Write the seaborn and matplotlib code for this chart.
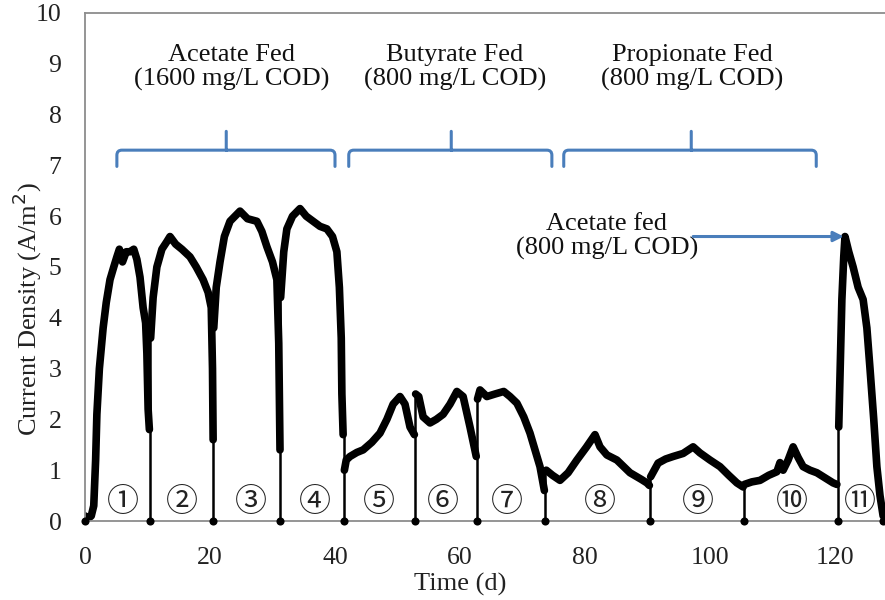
import numpy as np
import pandas as pd
import matplotlib
matplotlib.use("Agg")
import matplotlib.pyplot as plt
from matplotlib.path import Path
from matplotlib.patches import PathPatch
import seaborn as sns

# ---------------- data ----------------
c1_t = [0.0, 0.5, 1.0, 1.4, 1.7, 1.9, 2.3, 2.9, 3.4, 4.0, 4.6, 5.1, 5.5, 6.0, 6.6, 7.2, 7.8, 8.3, 8.8, 9.3, 9.7, 9.9, 10.1, 10.3]
c1_j = [0.1, 0.05, 0.1, 0.3, 1.2, 2.1, 3.0, 3.8, 4.3, 4.75, 5.0, 5.2, 5.35, 5.1, 5.3, 5.3, 5.35, 5.15, 4.8, 4.2, 3.9, 3.3, 2.2, 1.8]
c2_t = [10.5, 10.9, 11.5, 12.3, 13.1, 13.6, 14.5, 15.5, 16.8, 17.8, 18.9, 19.7, 20.2, 20.4, 20.5]
c2_j = [3.6, 4.4, 5.0, 5.35, 5.5, 5.6, 5.45, 5.35, 5.2, 5.0, 4.75, 4.5, 4.2, 3.0, 1.6]
c3_t = [20.6, 21.0, 21.6, 22.3, 23.2, 24.0, 24.8, 26.0, 27.5, 28.3, 29.1, 30.0, 30.7, 31.0, 31.2]
c3_j = [3.8, 4.6, 5.1, 5.6, 5.9, 6.0, 6.1, 5.95, 5.9, 5.7, 5.4, 5.1, 4.75, 3.5, 1.4]
c4_t = [31.3, 31.8, 32.3, 33.2, 34.4, 35.4, 36.5, 37.6, 38.7, 39.6, 40.3, 40.7, 41.0, 41.1, 41.3]
c4_j = [4.4, 5.3, 5.75, 6.0, 6.15, 6.0, 5.9, 5.8, 5.75, 5.6, 5.3, 4.6, 3.6, 2.5, 1.7]
c5_t = [41.5, 41.8, 42.4, 43.5, 44.5, 45.9, 47.2, 48.3, 49.3, 50.4, 51.2, 52.0, 52.7]
c5_j = [1.0, 1.2, 1.27, 1.35, 1.4, 1.55, 1.73, 2.0, 2.3, 2.45, 2.3, 1.85, 1.7]
c6_t = [52.9, 53.4, 54.1, 55.2, 56.2, 57.3, 58.4, 59.5, 60.5, 61.6, 62.6]
c6_j = [2.5, 2.45, 2.05, 1.93, 2.0, 2.1, 2.3, 2.55, 2.45, 1.85, 1.27]
c7_t = [62.8, 63.2, 64.3, 65.6, 67.0, 68.0, 69.1, 70.2, 71.2, 72.0, 72.8, 73.5]
c7_j = [2.4, 2.58, 2.45, 2.5, 2.55, 2.45, 2.32, 2.05, 1.73, 1.4, 1.07, 0.6]
c8_t = [73.8, 74.8, 76.0, 77.3, 78.7, 80.2, 81.6, 82.4, 83.5, 85.1, 87.2, 89.0, 89.9, 90.3]
c8_j = [1.0, 0.9, 0.8, 0.95, 1.2, 1.45, 1.7, 1.46, 1.3, 1.2, 0.95, 0.82, 0.75, 0.7]
c9_t = [90.5, 91.7, 92.9, 94.1, 95.7, 97.3, 98.4, 100.0, 101.6, 103.0, 104.3, 105.3]
c9_j = [0.87, 1.14, 1.22, 1.27, 1.33, 1.46, 1.34, 1.2, 1.07, 0.9, 0.75, 0.67]
c10_t = [105.5, 106.7, 108.0, 109.4, 110.7, 111.2, 111.7, 112.5, 113.3, 114.1, 114.9, 116.0, 117.1, 118.4, 119.7, 120.3]
c10_j = [0.72, 0.77, 0.8, 0.9, 0.97, 1.15, 1.0, 1.2, 1.46, 1.25, 1.07, 1.0, 0.95, 0.85, 0.75, 0.72]
c11_t = [120.6, 121.1, 121.4, 121.6, 122.2, 122.9, 123.7, 124.5, 125.1, 125.6, 126.2, 126.7, 127.2, 127.7]
c11_j = [1.85, 4.36, 5.2, 5.6, 5.3, 5.0, 4.6, 4.36, 3.8, 3.0, 2.0, 1.07, 0.5, 0.1]

cycle_t = [c1_t, c2_t, c3_t, c4_t, c5_t, c6_t, c7_t, c8_t, c9_t, c10_t, c11_t]
cycle_j = [c1_j, c2_j, c3_j, c4_j, c5_j, c6_j, c7_j, c8_j, c9_j, c10_j, c11_j]

# medium changes (day) and the level reached by the thin drop line
boundary_days = [10.4, 20.5, 31.2, 41.4, 52.8, 62.7, 73.6, 90.4, 105.4, 120.5]
boundary_tops = [3.6, 3.8, 4.4, 1.7, 2.5, 2.4, 1.0, 0.87, 0.72, 1.85]
marker_days = [0.0, 10.4, 20.5, 31.2, 41.4, 52.8, 62.7, 73.6, 90.4, 105.4, 120.5, 127.7]

cycle_labels = ["①", "②", "③", "④", "⑤", "⑥", "⑦", "⑧", "⑨", "⑩", "⑪"]
cycle_label_days = [6.0, 15.5, 26.5, 36.8, 47.1, 57.2, 67.5, 82.4, 98.1, 113.1, 124.0]

feed_labels = ["Acetate Fed\n(1600 mg/L COD)", "Butyrate Fed\n(800 mg/L COD)", "Propionate Fed\n(800 mg/L COD)"]
feed_label_days = [23.5, 59.2, 97.1]
bracket_left = [5.1, 42.2, 76.6]
bracket_mid = [22.6, 58.6, 97.0]
bracket_right = [40.0, 74.7, 117.0]

# ---------------- figure ----------------
sns.set_theme(style="white")
plt.rcParams["font.family"] = ["Liberation Serif", "DejaVu Serif"]

fig = plt.figure(figsize=(8.85, 6.0), dpi=100)
ax = fig.add_axes([85 / 885, 1 - 521 / 600, 1 - 85 / 885, (521 - 13) / 600])

rows = []
for k, (tt, jj) in enumerate(zip(cycle_t, cycle_j)):
    for a, b in zip(tt, jj):
        rows.append({"cycle": k + 1, "day": a, "j": b})
df = pd.DataFrame(rows)

sns.lineplot(data=df, x="day", y="j", units="cycle", estimator=None, sort=False,
             color="black", lw=5.5, ax=ax, legend=False,
             solid_joinstyle="round", solid_capstyle="round")

ax.vlines(boundary_days, 0, boundary_tops, color="black", lw=1.8)
sns.scatterplot(x=marker_days, y=[0] * len(marker_days), color="black", s=34,
                edgecolor="black", linewidth=0, ax=ax, zorder=5, clip_on=False)

for lab, d in zip(cycle_labels, cycle_label_days):
    ax.text(d, 0.38, lab, ha="center", va="center", fontsize=23,
            family=["Noto Sans CJK JP", "DejaVu Sans"], color="#222222")

# brackets
blue = "#4a7ebb"
yh, ylow, ytip = 7.3, 6.98, 7.67
rx, ry = 0.8, 0.1
for l, m, r in zip(bracket_left, bracket_mid, bracket_right):
    verts = [(l, ylow), (l, yh - ry), (l, yh), (l + rx, yh),
             (m, yh), (m, ytip), (m, yh),
             (r - rx, yh), (r, yh), (r, yh - ry), (r, ylow)]
    codes = [Path.MOVETO, Path.LINETO, Path.CURVE3, Path.CURVE3,
             Path.LINETO, Path.LINETO, Path.MOVETO,
             Path.LINETO, Path.CURVE3, Path.CURVE3, Path.LINETO]
    ax.add_patch(PathPatch(Path(verts, codes), fill=False, edgecolor=blue, lw=2.2,
                           capstyle="round"))

for lab, d in zip(feed_labels, feed_label_days):
    ax.text(d, 8.93, lab, ha="center", va="center", fontsize=19,
            linespacing=1.1, color="#111111")

ax.text(83.5, 5.6, "Acetate fed\n(800 mg/L COD)", ha="center", va="center",
        fontsize=19, linespacing=1.1, color="#111111")
ax.annotate("", xy=(121.4, 5.6), xytext=(97.3, 5.6),
            arrowprops=dict(arrowstyle="-|>", color=blue, lw=2.2,
                            mutation_scale=15, shrinkA=0, shrinkB=0))

ax.set_xlim(0, 128)
ax.set_ylim(0, 10)
ax.set_xticks([0, 20, 40, 60, 80, 100, 120])
ax.set_yticks(range(0, 11))
ax.tick_params(axis="y", length=0, labelsize=18.5, colors="#222222", pad=17)
ax.tick_params(axis="x", length=0, labelsize=18.5, colors="#222222", pad=19)
ax.set_xlabel("Time (d)", fontsize=19, color="#222222")
ax.set_ylabel("Current Density (A/m$^2$)", fontsize=19, color="#222222")
ax.xaxis.label.set_va("center")
ax.xaxis.label.set_ha("center")
ax.yaxis.label.set_va("center")
ax.yaxis.label.set_ha("center")
ax.xaxis.set_label_coords((460 - 85) / 800, (521 - 584) / 508)
ax.yaxis.set_label_coords((27 - 85) / 800, (521 - 309) / 508)

for s in ["left", "top", "bottom"]:
    ax.spines[s].set_color("#8c8c8c")
    ax.spines[s].set_linewidth(1.3)
ax.spines["right"].set_visible(False)

fig.savefig("out.png", dpi=100)
